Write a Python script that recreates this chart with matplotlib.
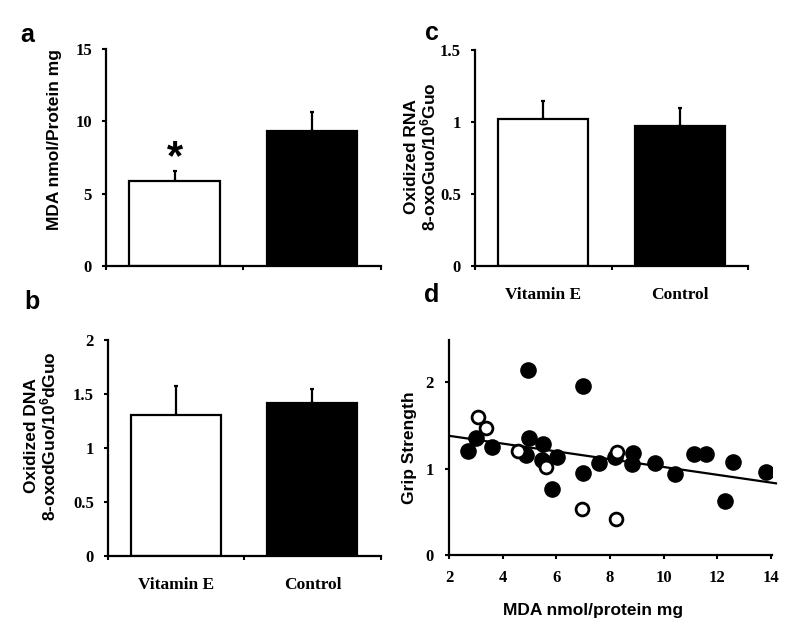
import matplotlib
matplotlib.use("Agg")
import matplotlib.pyplot as plt
import numpy as np

# ---------------- data ----------------
groups = ["Vitamin E", "Control"]
mda_mean = [5.87, 9.36]
mda_err = [0.71, 1.29]
dna_mean = [1.305, 1.413]
dna_err = [0.272, 0.136]
rna_mean = [1.018, 0.971]
rna_err = [0.129, 0.126]

# panel d scatter: filled = control, open = vitamin E
filled_x = [2.68, 3.00, 3.61, 4.95, 4.99, 4.86, 5.51, 5.45, 6.01, 5.84, 6.98, 7.00,
            7.60, 8.19, 8.87, 8.84, 9.70, 10.44, 11.12, 11.59, 12.59, 12.30, 13.82]
filled_y = [1.21, 1.36, 1.25, 2.14, 1.36, 1.16, 1.28, 1.10, 1.14, 0.76, 1.96, 0.95,
            1.06, 1.14, 1.18, 1.05, 1.06, 0.94, 1.17, 1.17, 1.08, 0.62, 0.96]
open_x = [3.08, 3.37, 4.58, 5.60, 6.94, 8.28, 8.21]
open_y = [1.60, 1.47, 1.20, 1.02, 0.53, 1.19, 0.42]
fit_x = [2.0, 14.2]
fit_y = [1.38, 0.83]

# ---------------- style ----------------
plt.rcParams["mathtext.fontset"] = "custom"
plt.rcParams["mathtext.rm"] = "Liberation Sans:bold"
plt.rcParams["mathtext.default"] = "rm"

SANS = "Liberation Sans"
SERIF = "Liberation Serif"
W, H = 800, 642
fig = plt.figure(figsize=(8.0, 6.42), dpi=100)


def axes_px(x0, x1, ytop, ybot):
    return fig.add_axes([x0 / W, 1 - ybot / H, (x1 - x0) / W, (ybot - ytop) / H])


def style_axes(ax):
    for s in ["top", "right"]:
        ax.spines[s].set_visible(False)
    for s in ["left", "bottom"]:
        ax.spines[s].set_linewidth(1.6)
        ax.spines[s].set_color("black")
    ax.tick_params(axis="both", which="major", direction="out", length=3, width=1.5,
                   labelsize=12)
    for lab in ax.get_xticklabels() + ax.get_yticklabels():
        lab.set_fontfamily(SERIF)
        lab.set_fontweight("bold")


def bar_panel(ax, means, errs, ymax, yticks, ytlabels, show_names):
    x = np.arange(len(means))
    ax.bar(x, means, width=0.66, color=["white", "black"], edgecolor="black",
           linewidth=1.6, zorder=2)
    ax.errorbar(x, means, yerr=[[0] * len(errs), errs], fmt="none", ecolor="black",
                elinewidth=1.6, capsize=1.5, capthick=1.6, zorder=1)
    ax.set_xlim(-0.5, 1.5)
    ax.set_ylim(0, ymax)
    ax.set_xticks([-0.5, 0.5, 1.5])
    ax.set_xticklabels([])
    ax.set_yticks(yticks)
    ax.set_yticklabels(ytlabels)
    ax.tick_params(axis="y", pad=7)
    if show_names:
        ax.set_xticks(x, minor=True)
        ax.set_xticklabels(groups, minor=True)
        ax.tick_params(axis="x", which="minor", length=0, pad=15, labelsize=12.5)
    style_axes(ax)
    for lab in ax.get_xticklabels(minor=True):
        lab.set_fontfamily(SERIF)
        lab.set_fontweight("bold")


# panel a
ax_a = axes_px(106, 380.7, 49.3, 265.7)
bar_panel(ax_a, mda_mean, mda_err, 15, [0, 5, 10, 15], ["0", "5", "10", "15"], False)
ax_a.text(0, mda_mean[0] + mda_err[0] + 0.9, "*", ha="center", va="center",
          fontsize=30, fontweight="bold", family=SANS)

# panel c
ax_c = axes_px(475, 748.3, 50, 265.7)
bar_panel(ax_c, rna_mean, rna_err, 1.5, [0, 0.5, 1, 1.5], ["0", "0.5", "1", "1.5"], True)

# panel b
ax_b = axes_px(107.7, 380.7, 340, 555.7)
bar_panel(ax_b, dna_mean, dna_err, 2, [0, 0.5, 1, 1.5, 2], ["0", "0.5", "1", "1.5", "2"], True)

# panel d
ax_d = axes_px(449.3, 771.7, 340, 555)
ax_d.scatter(filled_x, filled_y, s=120, c="black", edgecolors="black", zorder=3)
ax_d.scatter(open_x, open_y, s=85, facecolors="white", edgecolors="black",
             linewidths=2.0, zorder=4)
ax_d.plot(fit_x, fit_y, color="black", lw=1.6, zorder=2, clip_on=False)
ax_d.set_xlim(2, 14.04)
ax_d.set_ylim(0, 2.49)
ax_d.set_xticks([2, 4, 6, 8, 10, 12, 14])
ax_d.set_yticks([0, 1, 2])
ax_d.tick_params(axis="x", pad=8)
ax_d.tick_params(axis="y", pad=8)
style_axes(ax_d)

# ---------------- labels ----------------
def ftext(x, y, s, **kw):
    fig.text(x / W, 1 - y / H, s, ha="center", va="center", family=SANS,
             fontweight="bold", **kw)

ftext(27, 35, "a", fontsize=18)
ftext(32, 302, "b", fontsize=18)
ftext(432, 33, "c", fontsize=18)
ftext(432, 295, "d", fontsize=18)

ftext(55, 140, "MDA nmol/Protein mg", fontsize=12.5, rotation=90)
ftext(421, 157, "Oxidized RNA\n8-oxoGuo/10$^{6}$Guo", fontsize=12.5, rotation=90,
      linespacing=1.0)
ftext(41, 436, "Oxidized DNA\n8-oxodGuo/10$^{6}$dGuo", fontsize=12.5, rotation=90,
      linespacing=1.0)
ftext(410, 448, "Grip Strength", fontsize=12.5, rotation=90)
ftext(593, 610, "MDA nmol/protein mg", fontsize=12.5)

fig.savefig("out.png", dpi=100, facecolor="white")
